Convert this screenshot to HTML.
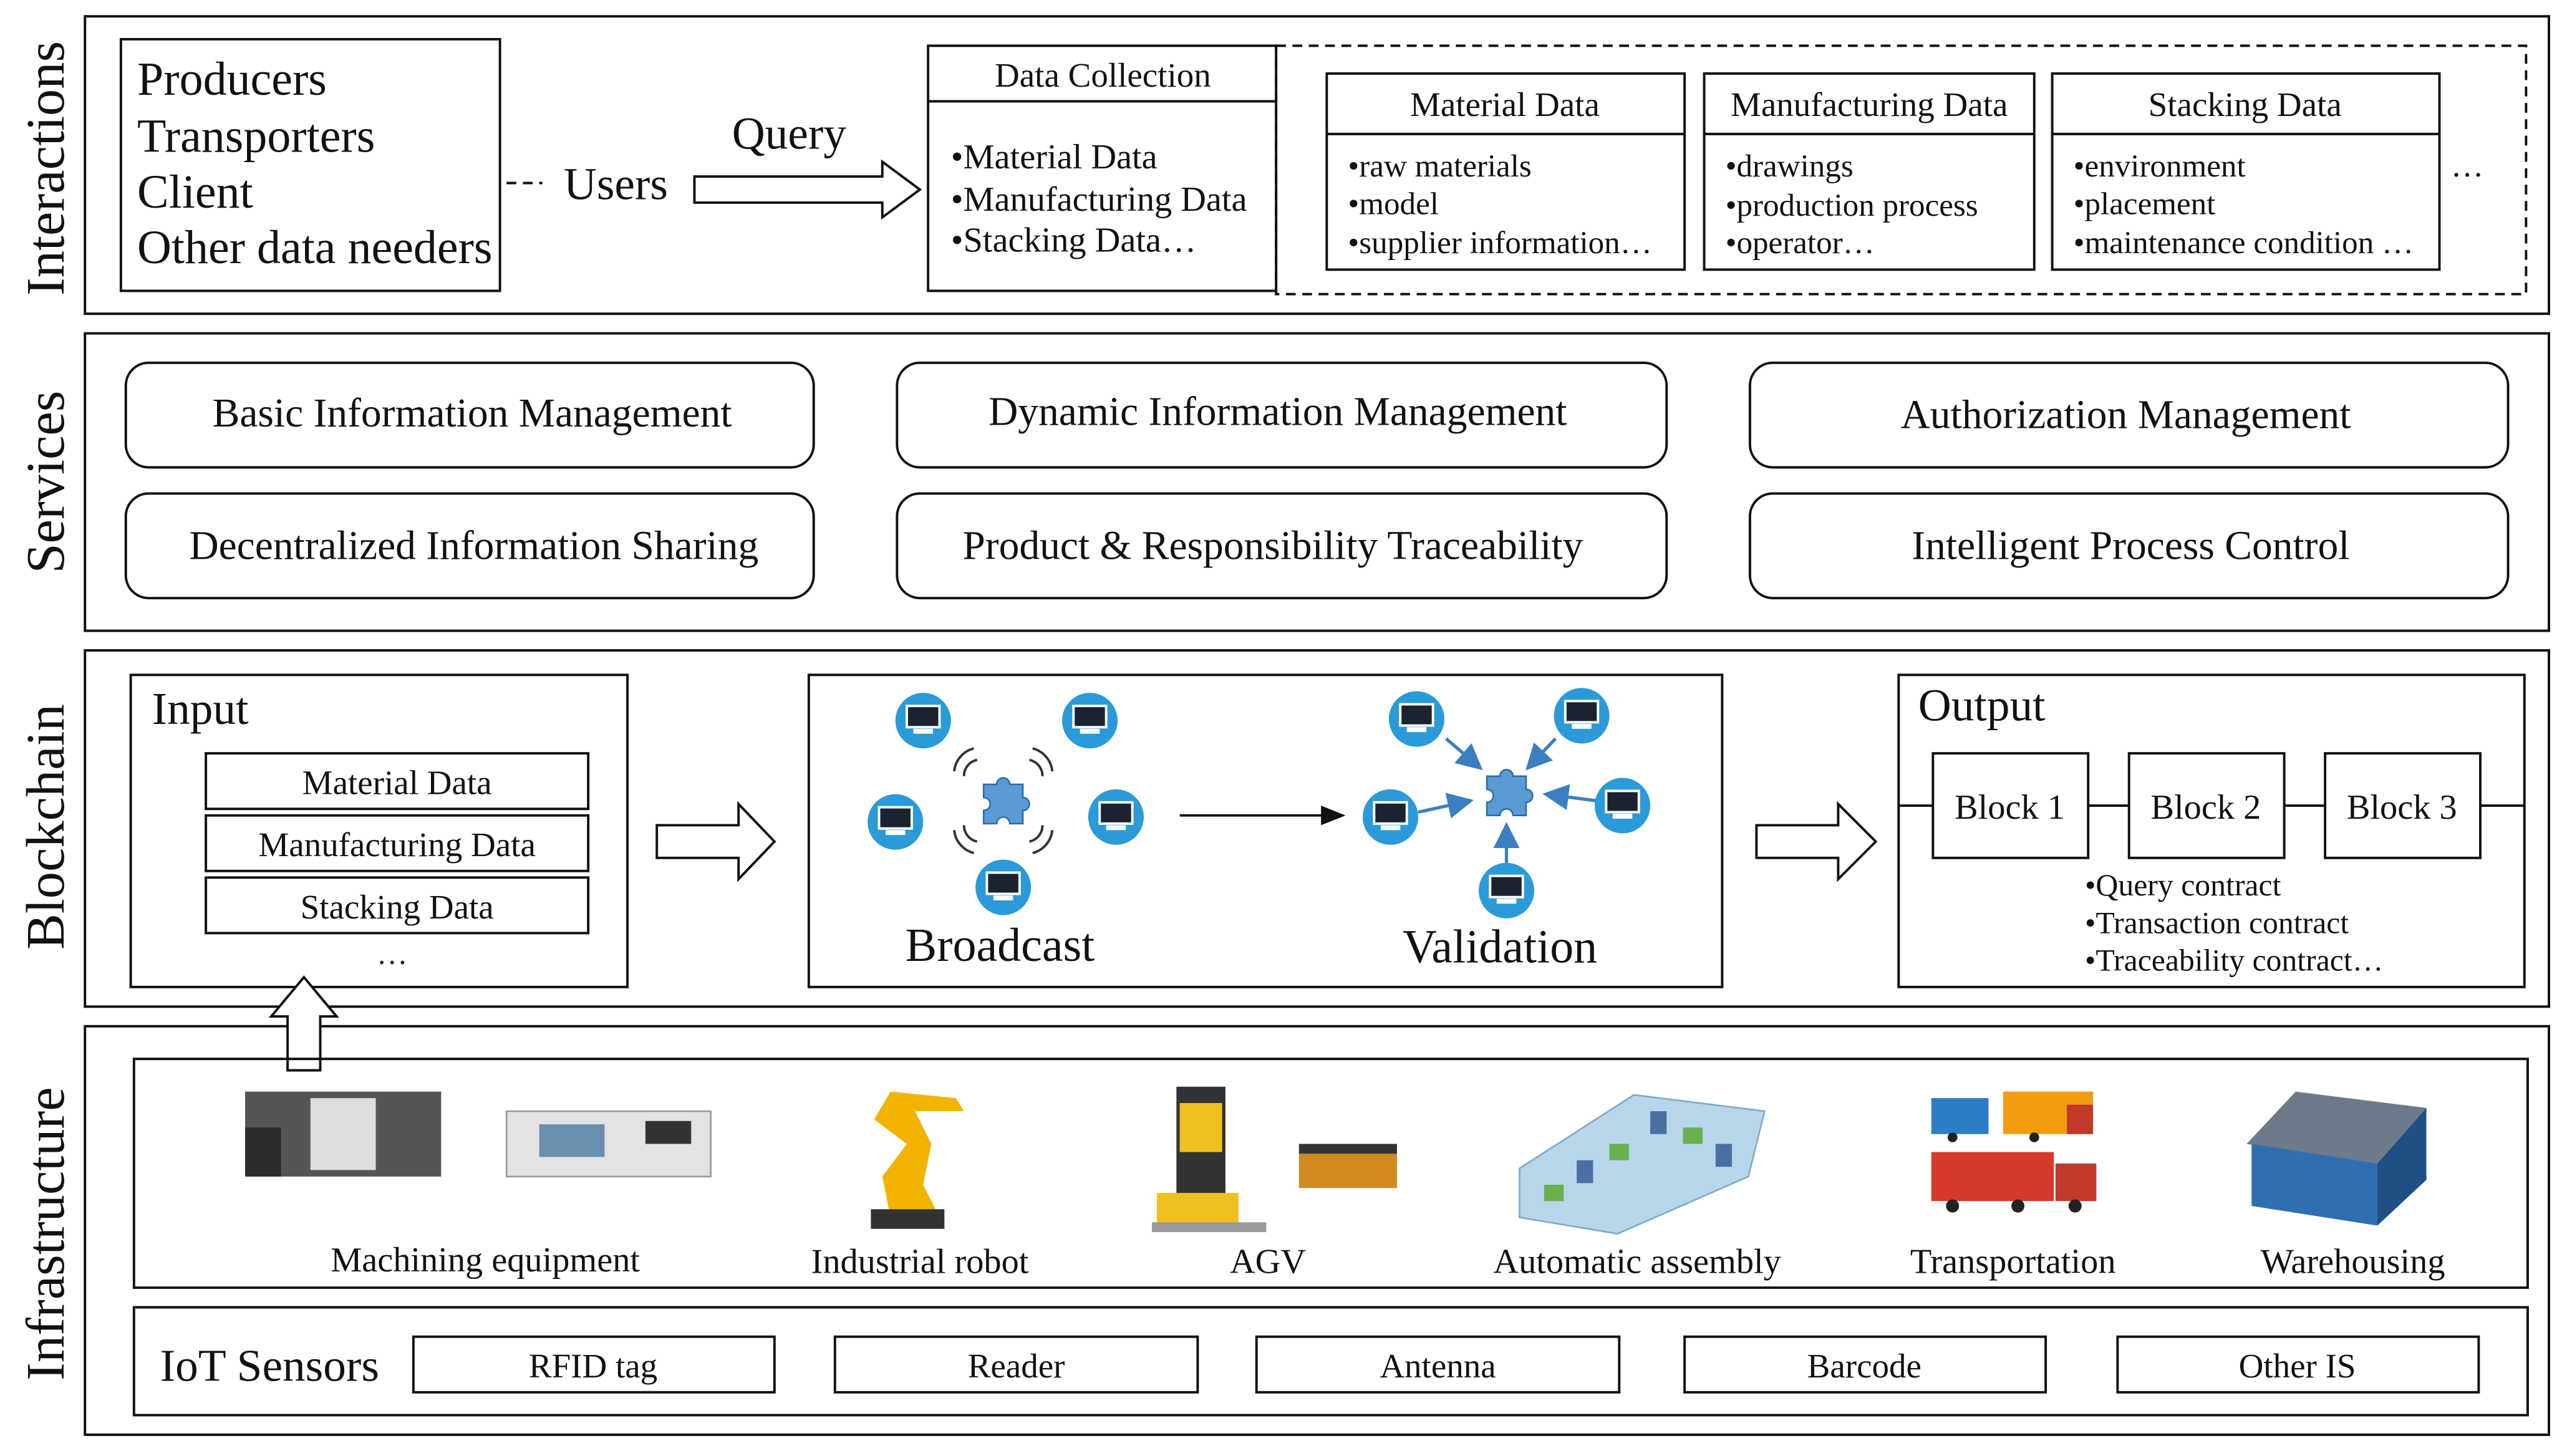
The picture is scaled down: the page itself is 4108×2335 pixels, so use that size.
<!DOCTYPE html>
<html><head><meta charset="utf-8"><style>
html,body{margin:0;padding:0;background:#fff;}
svg{display:block;}
text{font-family:"Liberation Serif",serif;fill:#111;}
</style></head><body>
<svg width="4108" height="2335" viewBox="0 0 1568 891" preserveAspectRatio="none" xmlns="http://www.w3.org/2000/svg">
<defs>
<g id="mon">
<circle r="17" fill="#2a9bd8"/>
<rect x="-10" y="-9" width="20" height="13" fill="#1b2230" stroke="#fff" stroke-width="1.5"/>
<rect x="-6" y="5" width="12" height="3" fill="#fff"/>
</g>
<g id="puz">
<path d="M-12,-10 h8 a4,4 0 1 1 8,0 h8 v8 a4,4 0 1 1 0,8 v8 h-8 a4,4 0 1 0 -8,0 h-8 v-8 a4,4 0 1 0 0,-8 z" fill="#5a9bd5" stroke="#2f6da8" stroke-width="1"/>
</g>
<marker id="ah" markerWidth="10" markerHeight="8" refX="9" refY="4" orient="auto"><path d="M0,0 L10,4 L0,8 z" fill="#111"/></marker>
<marker id="ab" markerWidth="8" markerHeight="8" refX="7" refY="4" orient="auto"><path d="M0,0 L8,4 L0,8 z" fill="#3a7fc1"/></marker>
</defs>
<g fill="none" stroke="#111" stroke-width="1.5">
<rect x="52" y="10" width="1508" height="182"/>
<rect x="52" y="204" width="1508" height="182"/>
<rect x="52" y="398" width="1508" height="218"/>
<rect x="52" y="628" width="1508" height="250"/>
</g>
<g font-size="33" text-anchor="middle">
<text transform="translate(39,103) rotate(-90)">Interactions</text>
<text transform="translate(39,295) rotate(-90)">Services</text>
<text transform="translate(39,506) rotate(-90)">Blockchain</text>
<text transform="translate(39,755) rotate(-90)">Infrastructure</text>
</g>
<!-- Interactions -->
<rect x="74" y="24" width="232" height="154" fill="none" stroke="#111" stroke-width="1.5"/>
<g font-size="29"><text x="84" y="58">Producers</text><text x="84" y="93">Transporters</text><text x="84" y="127">Client</text><text x="84" y="161">Other data needers</text></g>
<line x1="310" y1="112" x2="332" y2="112" stroke="#111" stroke-width="1.5" stroke-dasharray="6,4"/>
<text x="345" y="122" font-size="28">Users</text>
<text x="448" y="91" font-size="28">Query</text>
<path d="M425,108 H540 V99 L563,116 L540,133 V124 H425 Z" fill="#fff" stroke="#111" stroke-width="1.5"/>
<rect x="568" y="28" width="213" height="150" fill="none" stroke="#111" stroke-width="1.5"/>
<line x1="568" y1="62" x2="781" y2="62" stroke="#111" stroke-width="1.5"/>
<text x="675" y="53" font-size="21" text-anchor="middle">Data Collection</text>
<g font-size="21.5"><text x="582" y="103">•Material Data</text><text x="582" y="129">•Manufacturing Data</text><text x="582" y="154">•Stacking Data…</text></g>
<rect x="781" y="28" width="765" height="152" fill="none" stroke="#111" stroke-width="1.5" stroke-dasharray="6,4"/>
<g fill="none" stroke="#111" stroke-width="1.5">
<rect x="812" y="45" width="219" height="120"/><line x1="812" y1="82" x2="1031" y2="82"/>
<rect x="1043" y="45" width="202" height="120"/><line x1="1043" y1="82" x2="1245" y2="82"/>
<rect x="1256" y="45" width="237" height="120"/><line x1="1256" y1="82" x2="1493" y2="82"/>
</g>
<g font-size="21" text-anchor="middle"><text x="921" y="71">Material Data</text><text x="1144" y="71">Manufacturing Data</text><text x="1374" y="71">Stacking Data</text></g>
<g font-size="19.5">
<text x="825" y="108">•raw materials</text><text x="825" y="131">•model</text><text x="825" y="155">•supplier information…</text>
<text x="1056" y="108">•drawings</text><text x="1056" y="132">•production process</text><text x="1056" y="155">•operator…</text>
<text x="1269" y="108">•environment</text><text x="1269" y="131">•placement</text><text x="1269" y="155">•maintenance condition …</text>
</g>
<text x="1500" y="108" font-size="20">…</text>
<!-- Services -->
<g fill="none" stroke="#111" stroke-width="1.5">
<rect x="77" y="222" width="421" height="64" rx="14"/><rect x="549" y="222" width="471" height="64" rx="14"/><rect x="1071" y="222" width="464" height="64" rx="14"/>
<rect x="77" y="302" width="421" height="64" rx="14"/><rect x="549" y="302" width="471" height="64" rx="14"/><rect x="1071" y="302" width="464" height="64" rx="14"/>
</g>
<g font-size="25" text-anchor="middle">
<text x="289" y="261">Basic Information Management</text><text x="782" y="260">Dynamic Information Management</text><text x="1301" y="262">Authorization Management</text>
<text x="290" y="342">Decentralized Information Sharing</text><text x="779" y="342">Product &amp; Responsibility Traceability</text><text x="1304" y="342">Intelligent Process Control</text>
</g>
<!-- Blockchain -->
<g fill="none" stroke="#111" stroke-width="1.5">
<rect x="80" y="413" width="304" height="191"/>
<rect x="126" y="461" width="234" height="34"/><rect x="126" y="499" width="234" height="34"/><rect x="126" y="537" width="234" height="34"/>
<rect x="495" y="413" width="559" height="191"/>
<rect x="1162" y="413" width="383" height="191"/>
</g>
<text x="93" y="443" font-size="28">Input</text>
<g font-size="21" text-anchor="middle"><text x="243" y="486">Material Data</text><text x="243" y="524">Manufacturing Data</text><text x="243" y="562">Stacking Data</text></g>
<text x="240" y="590" font-size="19" text-anchor="middle">…</text>
<path d="M402,505 H452 V492 L474,515 L452,538 V525 H402 Z" fill="#fff" stroke="#111" stroke-width="1.5"/>
<path d="M1075,505 H1125 V492 L1148,515 L1125,538 V525 H1075 Z" fill="#fff" stroke="#111" stroke-width="1.5"/>
<path d="M176,655 V622 H166 L186,598 L206,622 H196 V655 Z" fill="#fff" stroke="#111" stroke-width="1.5"/>
<!-- broadcast -->
<use href="#puz" x="614" y="490"/>
<g fill="none" stroke="#333" stroke-width="1.5">
<path d="M590,475 a10,10 0 0 1 8,-10"/><path d="M584,472 a16,16 0 0 1 12,-14"/>
<path d="M638,475 a10,10 0 0 0 -8,-10"/><path d="M644,472 a16,16 0 0 0 -12,-14"/>
<path d="M590,505 a10,10 0 0 0 8,10"/><path d="M584,508 a16,16 0 0 0 12,14"/>
<path d="M638,505 a10,10 0 0 1 -8,10"/><path d="M644,508 a16,16 0 0 1 -12,14"/>
</g>
<use href="#mon" x="565" y="441"/><use href="#mon" x="667" y="441"/><use href="#mon" x="548" y="503"/><use href="#mon" x="683" y="500"/><use href="#mon" x="614" y="543"/>
<text x="612" y="588" font-size="29" text-anchor="middle">Broadcast</text>
<line x1="722" y1="499" x2="822" y2="499" stroke="#111" stroke-width="1.5" marker-end="url(#ah)"/>
<!-- validation -->
<g stroke="#3a7fc1" stroke-width="2" marker-end="url(#ab)">
<line x1="885" y1="452" x2="906" y2="470"/><line x1="952" y1="452" x2="935" y2="470"/>
<line x1="868" y1="497" x2="900" y2="490"/><line x1="977" y1="490" x2="946" y2="486"/>
<line x1="922" y1="528" x2="922" y2="505"/>
</g>
<use href="#puz" x="922" y="485"/>
<use href="#mon" x="867" y="440"/><use href="#mon" x="968" y="438"/><use href="#mon" x="851" y="500"/><use href="#mon" x="993" y="493"/><use href="#mon" x="922" y="545"/>
<text x="918" y="589" font-size="29" text-anchor="middle">Validation</text>
<!-- output -->
<text x="1174" y="441" font-size="28">Output</text>
<line x1="1162" y1="493" x2="1545" y2="493" stroke="#111" stroke-width="1.5"/>
<g fill="#fff" stroke="#111" stroke-width="1.5">
<rect x="1183" y="461" width="95" height="64"/><rect x="1303" y="461" width="95" height="64"/><rect x="1423" y="461" width="95" height="64"/>
</g>
<g font-size="21.5" text-anchor="middle"><text x="1230" y="501">Block 1</text><text x="1350" y="501">Block 2</text><text x="1470" y="501">Block 3</text></g>
<g font-size="19"><text x="1276" y="548">•Query contract</text><text x="1276" y="571">•Transaction contract</text><text x="1276" y="594">•Traceability contract…</text></g>
<!-- Infrastructure -->
<rect x="82" y="648" width="1465" height="140" fill="none" stroke="#111" stroke-width="1.5"/>
<rect x="150" y="668" width="120" height="52" fill="#555"/><rect x="190" y="672" width="40" height="44" fill="#ddd"/><rect x="150" y="690" width="22" height="30" fill="#2b2b2b"/>
<rect x="310" y="680" width="125" height="40" fill="#e3e3e3" stroke="#999"/><rect x="330" y="688" width="40" height="20" fill="#6a8fae"/><rect x="395" y="686" width="28" height="14" fill="#333"/>
<path d="M545,745 L540,720 L555,700 L535,685 L545,668 L585,672 L590,680 L560,680 L570,700 L565,725 L575,745 Z" fill="#f2b400"/><rect x="533" y="740" width="45" height="12" fill="#333"/>
<rect x="720" y="665" width="30" height="70" fill="#333"/><rect x="722" y="675" width="26" height="30" fill="#f0c020"/><rect x="708" y="730" width="50" height="22" fill="#f0c020"/><rect x="705" y="748" width="70" height="6" fill="#999"/>
<rect x="795" y="705" width="60" height="22" fill="#d08a20"/><rect x="795" y="700" width="60" height="6" fill="#333"/>
<path d="M930,715 L1000,670 L1080,680 L1070,720 L990,755 L930,745 Z" fill="#b8d6ea" stroke="#7ea9c8"/>
<g fill="#6ab04c"><rect x="945" y="725" width="12" height="10"/><rect x="985" y="700" width="12" height="10"/><rect x="1030" y="690" width="12" height="10"/></g>
<g fill="#4a6fa5"><rect x="965" y="710" width="10" height="14"/><rect x="1010" y="680" width="10" height="14"/><rect x="1050" y="700" width="10" height="14"/></g>
<rect x="1182" y="672" width="35" height="22" fill="#2d7dc4"/><rect x="1226" y="668" width="55" height="26" fill="#f39c12"/><rect x="1265" y="676" width="16" height="18" fill="#c0392b"/>
<rect x="1182" y="705" width="75" height="30" fill="#d63a2a"/><rect x="1258" y="712" width="25" height="23" fill="#c0392b"/>
<g fill="#222"><circle cx="1195" cy="738" r="4"/><circle cx="1235" cy="738" r="4"/><circle cx="1270" cy="738" r="4"/><circle cx="1195" cy="696" r="3"/><circle cx="1245" cy="696" r="3"/></g>
<path d="M1375,700 L1405,668 L1485,678 L1455,712 Z" fill="#6c7a89"/><path d="M1378,700 L1455,712 L1455,750 L1378,738 Z" fill="#2f6fb0"/><path d="M1455,712 L1485,678 L1485,722 L1455,750 Z" fill="#1f4f85"/>
<g font-size="21.5" text-anchor="middle">
<text x="297" y="778">Machining equipment</text><text x="563" y="779">Industrial robot</text><text x="776" y="779">AGV</text><text x="1002" y="779">Automatic assembly</text><text x="1232" y="779">Transportation</text><text x="1440" y="779">Warehousing</text>
</g>
<rect x="82" y="800" width="1465" height="66" fill="none" stroke="#111" stroke-width="1.5"/>
<text x="98" y="845" font-size="28">IoT Sensors</text>
<g fill="none" stroke="#111" stroke-width="1.5">
<rect x="253" y="818" width="221" height="34"/><rect x="511" y="818" width="222" height="34"/><rect x="769" y="818" width="222" height="34"/><rect x="1031" y="818" width="221" height="34"/><rect x="1296" y="818" width="221" height="34"/>
</g>
<g font-size="21" text-anchor="middle"><text x="363" y="843">RFID tag</text><text x="622" y="843">Reader</text><text x="880" y="843">Antenna</text><text x="1141" y="843">Barcode</text><text x="1406" y="843">Other IS</text></g>
</svg>
</body></html>
